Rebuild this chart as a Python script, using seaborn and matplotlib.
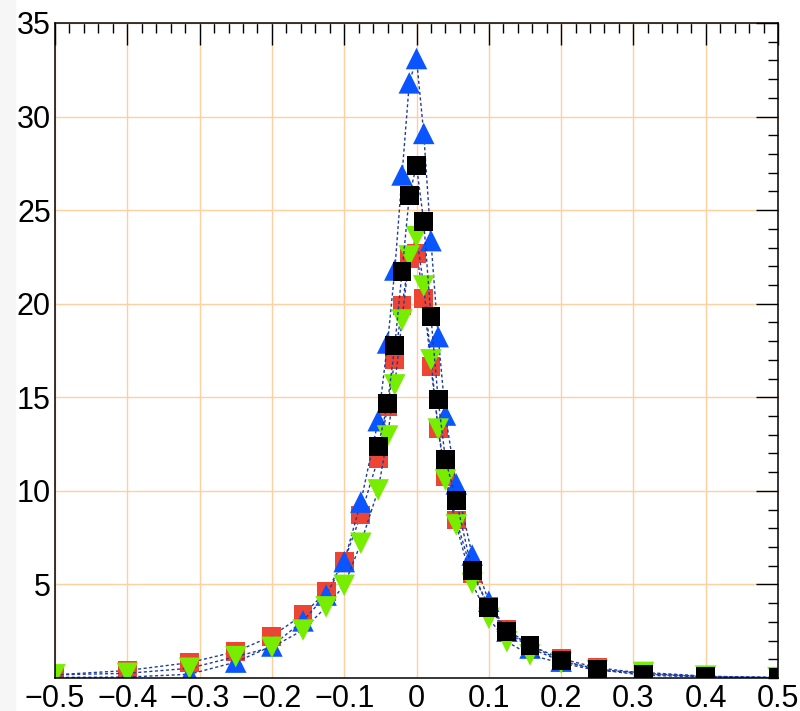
import numpy as np
import pandas as pd
import matplotlib
matplotlib.use("Agg")
import matplotlib.pyplot as plt
from matplotlib.ticker import MultipleLocator
import seaborn as sns

# bin centres (variable-width bins)
x_bins = [-0.5, -0.4, -0.314, -0.25, -0.2, -0.157, -0.125, -0.1, -0.077, -0.053,
          -0.04, -0.03, -0.02, -0.01, 0.0, 0.01, 0.02, 0.03, 0.04, 0.055,
          0.077, 0.1, 0.125, 0.157, 0.2, 0.25, 0.314, 0.4, 0.5]

red_vals = [0.17, 0.4, 0.82, 1.41, 2.24, 3.38, 4.61, 6.25, 8.71, 11.74,
            14.5, 17.0, 19.9, 22.43, 22.69, 20.29, 16.64, 13.34, 10.76, 8.44,
            5.6, 3.8, 2.6, 1.75, 1.03, 0.55, 0.25, 0.08, 0.02]

blue_vals = [0.03, 0.05, 0.2, 0.85, 1.71, 3.05, 4.43, 6.22, 9.4, 13.75,
             17.9, 21.8, 26.88, 31.8, 33.1, 29.1, 23.37, 18.24, 14.05, 10.37,
             6.57, 4.1, 2.5, 1.6, 0.9, 0.45, 0.15, 0.05, 0.02]

green_vals = [0.17, 0.25, 0.52, 1.14, 1.64, 2.56, 3.8, 4.95, 7.2, 10.05,
              12.93, 15.66, 19.13, 22.55, 23.58, 20.95, 17.0, 13.3, 10.58, 8.18,
              5.06, 3.19, 1.94, 1.23, 0.8, 0.4, 0.3, 0.1, 0.02]

# black series starts at -0.053
black_x = x_bins[9:]
black_vals = [12.36, 14.68, 17.76, 21.71, 25.76, 27.38, 24.38, 19.3, 14.86, 11.69,
              9.47, 5.73, 3.78, 2.49, 1.76, 0.92, 0.48, 0.21, 0.07, 0.02]

x_ticks = [-0.5, -0.4, -0.3, -0.2, -0.1, 0.0, 0.1, 0.2, 0.3, 0.4, 0.5]
y_ticks = [5, 10, 15, 20, 25, 30, 35]

sns.set_theme(style="white")
plt.rcParams['font.family'] = ['Liberation Sans', 'DejaVu Sans']

fig = plt.figure(figsize=(8.0, 7.11), dpi=100)
fig.patches.append(plt.Rectangle((0, 0), 15 / 800, 1, transform=fig.transFigure,
                                 color='#f6f6f6', zorder=0))
ax = fig.add_axes([55 / 800, 33 / 711, 723 / 800, 655 / 711])

line_col = '#1f3c9c'
series = [
    (x_bins, red_vals, 's', '#ee4433', 185),
    (x_bins, blue_vals, '^', '#0a55ff', 240),
    (x_bins, green_vals, 'v', '#77ee00', 240),
    (black_x, black_vals, 's', '#000000', 185),
]

z = 3
for xs, ys, mk, col, size in series:
    df = pd.DataFrame({'x': xs, 'y': ys})
    sns.lineplot(data=df, x='x', y='y', ax=ax, color=line_col, lw=1.0,
                 linestyle=(0, (2.2, 1.8)), sort=False, zorder=z)
    sns.scatterplot(data=df, x='x', y='y', ax=ax, marker=mk, s=size, color=col,
                    edgecolor='none', linewidth=0, zorder=z + 1)
    z += 2

ax.set_xlim(-0.5, 0.5)
ax.set_ylim(0, 35)
ax.set_xticks(x_ticks)
ax.set_yticks(y_ticks)
ax.set_xticklabels([f"{t:.1f}".replace('-', '\u2212') if t != 0 else '0' for t in x_ticks])
ax.set_yticklabels([str(t) for t in y_ticks])
ax.xaxis.set_minor_locator(MultipleLocator(0.02))
ax.yaxis.set_minor_locator(MultipleLocator(1))
ax.set_xlabel('')
ax.set_ylabel('')

ax.grid(True, which='major', color='#ffcf9f', lw=1.0, zorder=0)
ax.set_axisbelow(True)

for sp in ax.spines.values():
    sp.set_color('black')
    sp.set_linewidth(1.1)
    sp.set_zorder(20)

ax.tick_params(which='both', direction='in', top=True, right=True,
               colors='black', width=1.0, labelsize=22)
ax.tick_params(which='major', length=15.5)
ax.tick_params(which='minor', length=7.5)
ax.tick_params(axis='x', pad=4)
ax.tick_params(axis='y', pad=3)

fig.savefig('out.png', dpi=100, facecolor='white')
